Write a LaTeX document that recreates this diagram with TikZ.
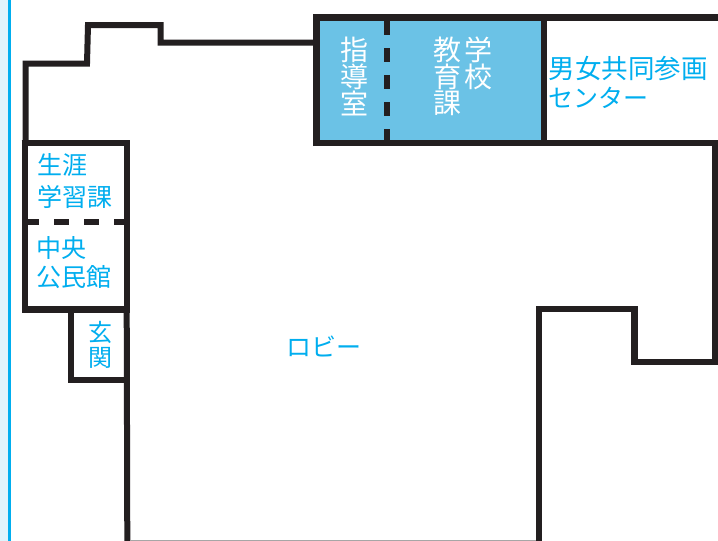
\documentclass[tikz,border=0pt]{standalone}
\usepackage{fontspec}
\setmainfont{Noto Sans CJK JP}
\definecolor{lbl}{HTML}{00AEEF}
\definecolor{wallc}{HTML}{231F20}
\definecolor{roomfill}{HTML}{6BC2E6}
\definecolor{strip}{HTML}{DFF4FC}
\tikzset{
  wall/.style={draw=wallc,line width=6pt,line cap=butt,line join=miter},
  partition/.style={draw=wallc,line width=5.5pt,dash pattern=on 13.5pt off 13.5pt},
  partitionb/.style={draw=wallc,line width=5.5pt,dash pattern=on 15pt off 15pt},
  lab/.style={inner sep=0pt,text=lbl,align=left},
  labw/.style={inner sep=0pt,text=white,font=\fontsize{28}{26.7}\selectfont,align=center},
}
\begin{document}
\begin{tikzpicture}[x=1pt,y=-1pt]
\useasboundingbox (0,0) rectangle (718,541);
\fill[white] (0,0) rectangle (718,541);
\fill[strip] (0,0) rectangle (8,541);
\fill[lbl] (8,0) rectangle (11,541);
% coordinates
\coordinate (a) at (25.5,143);
\coordinate (b) at (25.5,63.5);
\coordinate (c) at (87,63.5);
\coordinate (d) at (88,25);
\coordinate (e) at (160.5,25);
\coordinate (f) at (160.5,42.5);
\coordinate (g) at (316.5,42.5);
% blue rooms
\fill[roomfill] (316.5,17.5) rectangle (544,143);
% outer upper left wall
\draw[wall] (a) -- (b) -- (c) -- (d) -- (e) -- (f) -- (g);
% upper right block
\draw[wall,line width=7pt] (316.5,146) -- (316.5,17.5) -- (718,17.5);
\draw[wall] (316.5,143) -- (718,143);
\draw[wall,line width=6.5pt] (544,17.5) -- (544,143);
\draw[partition] (387,21) -- (387,141);
% left rooms
\draw[wall] (24.5,140) -- (24.5,312);
\draw[wall,line width=6.5pt] (21.5,143) -- (130,143);
\draw[wall] (127,143) -- (127,309);
\draw[wall,line width=7pt] (22,309) -- (129.5,309);
\draw[partitionb] (24,222) -- (129.5,222);
\draw[wall] (71,309) -- (71,380) -- (130,380);
\draw[wall] (126.7,309) -- (127.3,541);
% right side
\draw[wall,line width=6.2pt] (715.3,143) -- (715.3,361.8) -- (634.5,361.8) -- (634.5,309.2) -- (538.7,309.2) -- (538.7,541);
\draw[gray!70,line width=0.8pt] (130,540.6) -- (536,540.6);
% labels
\node[lab,anchor=west,font=\fontsize{25}{32}\selectfont] (n1) at (37,181) {生涯\\学習課};
\node[lab,anchor=west,font=\fontsize{25}{29.5}\selectfont] (n2) at (36,262.5) {中央\\公民館};
\node[lab,anchor=center,font=\fontsize{24}{24.5}\selectfont] (n3) at (100,345) {玄\\関};
\node[lab,anchor=center,font=\fontsize{25}{30}\selectfont] (n4) at (323.5,346.5) {ロビー};
\node[lab,anchor=west,font=\fontsize{26.5}{29}\selectfont] (n5) at (548.5,82.5) {男女共同参画\\{\fontsize{25}{29}\selectfont センター}};
\node[labw] (n6) at (354,76.5) {指\\導\\室};
\node[labw] (n7) at (447,76.5) {教\\育\\課};
\node[labw,anchor=center] (n8) at (478.5,63) {学\\校};
\end{tikzpicture}
\end{document}
